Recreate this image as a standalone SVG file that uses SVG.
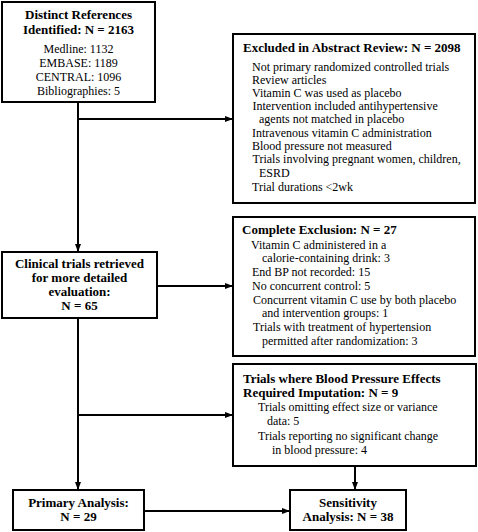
<svg xmlns="http://www.w3.org/2000/svg" width="478" height="532" viewBox="0 0 478 532">
<defs>
<style>
.box{fill:#fff;stroke:#000;stroke-width:2}
.t{font-family:"Liberation Serif","Times New Roman",serif;font-size:13px;font-weight:bold;fill:#000}
.b{font-family:"Liberation Serif","Times New Roman",serif;font-size:12px;fill:#000}
.c{text-anchor:middle}
.ln{fill:none;stroke:#000;stroke-width:2}
</style>
<marker id="ah" markerUnits="userSpaceOnUse" markerWidth="8" markerHeight="8" viewBox="0 0 8 8" refX="8" refY="4" orient="auto">
<path d="M0,1 L8,4 L0,7 Z" fill="#000"/>
</marker>
</defs>
<g id="connectors">
<line class="ln" x1="78" y1="102" x2="78" y2="252" marker-end="url(#ah)"/>
<line class="ln" x1="78" y1="119" x2="233" y2="119" marker-end="url(#ah)"/>
<line class="ln" x1="157" y1="286" x2="233" y2="286" marker-end="url(#ah)"/>
<line class="ln" x1="78" y1="318" x2="78" y2="490" marker-end="url(#ah)"/>
<line class="ln" x1="78" y1="415" x2="233" y2="415" marker-end="url(#ah)"/>
<line class="ln" x1="355" y1="466" x2="355" y2="490" marker-end="url(#ah)"/>
<line class="ln" x1="144" y1="511" x2="290" y2="511" marker-end="url(#ah)"/>
</g>
<g id="references">
<rect class="box" x="2" y="2" width="153" height="100"/>
<text class="t c" x="78.5" y="19">Distinct References</text>
<text class="t c" x="78.5" y="34">Identified: N = 2163</text>
<text class="b c" x="78.5" y="52.5">Medline: 1132</text>
<text class="b c" x="78.5" y="66.5">EMBASE: 1189</text>
<text class="b c" x="78.5" y="80.5">CENTRAL: 1096</text>
<text class="b c" x="78.5" y="94.5">Bibliographies: 5</text>
</g>
<g id="excluded-abstract">
<rect class="box" x="233" y="34" width="242" height="169"/>
<text class="t" x="243" y="52">Excluded in Abstract Review: N = 2098</text>
<text class="b" x="252" y="71">Not primary randomized controlled trials</text>
<text class="b" x="252" y="84">Review articles</text>
<text class="b" x="252" y="97">Vitamin C was used as placebo</text>
<text class="b" x="252.5" y="110">Intervention included antihypertensive</text>
<text class="b" x="259" y="123">agents not matched in placebo</text>
<text class="b" x="252" y="137">Intravenous vitamin C administration</text>
<text class="b" x="252" y="150">Blood pressure not measured</text>
<text class="b" x="252.5" y="163">Trials involving pregnant women, children,</text>
<text class="b" x="259" y="177">ESRD</text>
<text class="b" x="252" y="191">Trial durations &lt;2wk</text>
</g>
<g id="clinical-trials">
<rect class="box" x="2" y="252" width="155" height="66"/>
<text class="t c" x="79.5" y="267.5">Clinical trials retrieved</text>
<text class="t c" x="79.5" y="281.5">for more detailed</text>
<text class="t c" x="79.5" y="295.5">evaluation:</text>
<text class="t c" x="79.5" y="309.5">N = 65</text>
</g>
<g id="complete-exclusion">
<rect class="box" x="233" y="217" width="242" height="139"/>
<text class="t" x="242" y="234">Complete Exclusion: N = 27</text>
<text class="b" x="251" y="249">Vitamin C administered in a</text>
<text class="b" x="262" y="262">calorie-containing  drink:  3</text>
<text class="b" x="252" y="276">End BP not recorded: 15</text>
<text class="b" x="252" y="290">No concurrent control: 5</text>
<text class="b" x="253" y="304">Concurrent vitamin C use by both placebo</text>
<text class="b" x="262" y="317">and intervention groups: 1</text>
<text class="b" x="253" y="331">Trials with treatment of hypertension</text>
<text class="b" x="262" y="345">permitted after randomization: 3</text>
</g>
<g id="imputation">
<rect class="box" x="233" y="364" width="243" height="102"/>
<text class="t" x="243" y="383">Trials where Blood Pressure Effects</text>
<text class="t" x="243" y="397">Required Imputation: N = 9</text>
<text class="b" x="258" y="411">Trials omitting effect size or variance</text>
<text class="b" x="267" y="425">data: 5</text>
<text class="b" x="258" y="440">Trials reporting no significant change</text>
<text class="b" x="272" y="454">in blood pressure: 4</text>
</g>
<g id="primary">
<rect class="box" x="13" y="490" width="131" height="40"/>
<text class="t c" x="78.5" y="507">Primary Analysis:</text>
<text class="t c" x="78.5" y="521">N = 29</text>
</g>
<g id="sensitivity">
<rect class="box" x="290" y="490" width="116" height="40"/>
<text class="t c" x="348" y="507">Sensitivity</text>
<text class="t c" x="348" y="521">Analysis: N = 38</text>
</g>
</svg>
